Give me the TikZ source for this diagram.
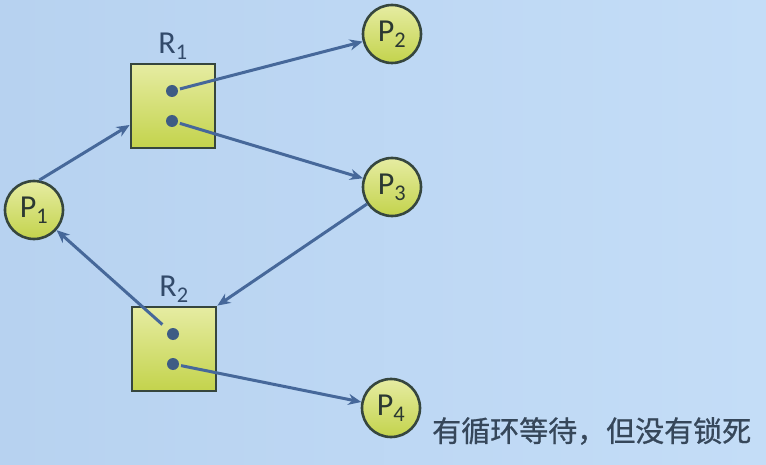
\documentclass[tikz,border=0pt]{standalone}
\usepackage{fontspec}
\setmainfont{Carlito}
\newfontfamily\cjk[FakeBold=0.8]{Noto Sans CJK SC}
\usetikzlibrary{positioning,arrows.meta}

\definecolor{bgleft}{HTML}{B7D2F0}
\definecolor{bgright}{HTML}{C4DDF7}
\definecolor{nodetop}{HTML}{E6ECA2}
\definecolor{nodebot}{HTML}{C3D34C}
\definecolor{rim}{HTML}{36463E}
\definecolor{arrowblue}{HTML}{46689A}
\definecolor{dotblue}{HTML}{3E5C84}
\definecolor{textgray}{HTML}{36475A}

\tikzset{
  proc/.style={circle,draw=rim,line width=2.6pt,minimum size=58pt,inner sep=0pt,
    top color=nodetop,bottom color=nodebot,font=\fontsize{32}{32}\selectfont,text=rim!80!black},
  res/.style={rectangle,draw=rim,line width=2.8pt,minimum size=84pt,inner sep=0pt,
    top color=nodetop,bottom color=nodebot},
  tok/.style={circle,fill=dotblue,minimum size=12pt,inner sep=0pt},
  reslabel/.style={font=\fontsize{32}{32}\selectfont,text=dotblue!80!black,inner sep=1pt},
  edge/.style={draw=arrowblue,line width=3pt,-{Stealth[length=13pt,width=11pt]}}
}

\begin{document}
\begin{tikzpicture}[x=1pt,y=-1pt]
% Background
\shade[left color=bgleft,right color=bgright] (0,0) rectangle (766,465);
\useasboundingbox (0,0) rectangle (766,465);

% Draw the processes
\node[proc] (P1) at (34,210) {P\textsubscript{1}};
\node[proc] (P2) at (392,34) {P\textsubscript{2}};
\node[proc] (P3) at (392,187) {P\textsubscript{3}};
\node[proc] (P4) at (391,408) {P\textsubscript{4}};

% Draw the resources and their instances
\node[res] (R1) at (173,106) {};
\node[res] (R2) at (174,349) {};
\foreach \r in {1,2} {
    \node[reslabel,above=2pt of R\r] (R\r lab) {R\textsubscript{\r}};
    \node[tok] (R\r a) at ([yshift=15pt,xshift=-1pt]R\r.center) {};
    \node[tok] (R\r b) at ([yshift=-15pt,xshift=-1pt]R\r.center) {};
}

% Draw the request and assignment edges
\draw[edge] (P1.80) -- ([yshift=-19pt]R1.west);
\draw[edge,shorten <=2pt] (R1a) -- (P2);
\draw[edge,shorten <=2pt] (R1b) -- (P3);
\draw[edge] (P3) -- (R2.north east);
\draw[edge,shorten <=8pt] (R2a) -- (P1);
\draw[edge,shorten <=2pt] (R2b) -- (P4);

% Caption
\node[anchor=west,text=textgray,font=\cjk\fontsize{29}{29}\selectfont,inner sep=0pt]
  (note) at (432,431) {有循环等待，但没有锁死};
\end{tikzpicture}
\end{document}
